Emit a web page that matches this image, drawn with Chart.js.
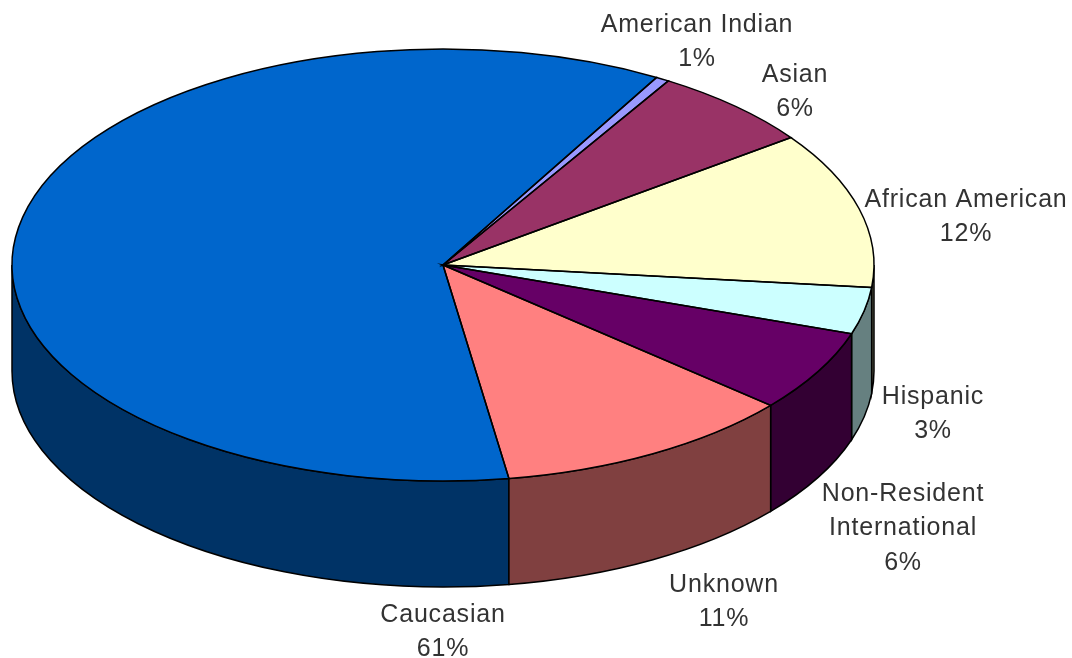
<!DOCTYPE html>
<html>
<head>
<meta charset="utf-8">
<style>
html, body { margin: 0; padding: 0; background: #fff; }
canvas { display: block; }
</style>
<script src="https://cdn.jsdelivr.net/npm/chart.js@4/dist/chart.umd.min.js"></script>
</head>
<body>
<canvas id="pie" width="1072" height="658"></canvas>
<script>
const categories = ['Caucasian', 'American Indian', 'Asian', 'African American', 'Hispanic', 'Non-Resident International', 'Unknown'];
const values = [60.7, 0.5, 6.2, 11.7, 3.5, 6.1, 11.3];
const percentLabels = ['61%', '1%', '6%', '12%', '3%', '6%', '11%'];
const labelLines = [['Caucasian'], ['American Indian'], ['Asian'], ['African American'], ['Hispanic'], ['Non-Resident', 'International'], ['Unknown']];
const topColors = ['#0066cc', '#9999ff', '#993366', '#ffffcc', '#ccffff', '#660066', '#ff8080'];
const sideColors = ['#003366', '#4d4d80', '#4d1a33', '#808066', '#668080', '#330033', '#804040'];

// how the flat pie is laid over on the page
const centre = { x: 443, y: 265 };
const radiusX = 431;
const radiusY = 216;
const depth = 106;
const firstAngle = 171.2;
const labelSpots = [[443, 615], [697, 25], [795, 75], [966, 200], [933, 397], [903, 494], [724, 585]];

function norm(a) {
  const t = 2 * Math.PI;
  return ((a % t) + t) % t;
}

const tilted = {
  id: 'tilted',
  beforeDatasetsDraw(chart) {
    const { ctx } = chart;
    const arcs = chart.getDatasetMeta(0).data;
    const flat = arcs[0];
    // side wall first, only the front half of the rim shows
    ctx.save();
    ctx.strokeStyle = '#000';
    ctx.lineWidth = 1.5;
    arcs.forEach((arc, i) => {
      const a0 = norm(arc.startAngle);
      const a1 = a0 + (arc.endAngle - arc.startAngle);
      [[a0, a1], [a0 - 2 * Math.PI, a1 - 2 * Math.PI]].forEach(([s, e]) => {
        const from = Math.max(s, 0);
        const to = Math.min(e, Math.PI);
        if (to <= from) return;
        ctx.beginPath();
        ctx.ellipse(centre.x, centre.y, radiusX, radiusY, 0, from, to);
        ctx.ellipse(centre.x, centre.y + depth, radiusX, radiusY, 0, to, from, true);
        ctx.closePath();
        ctx.fillStyle = sideColors[i];
        ctx.fill();
        ctx.stroke();
      });
    });
    ctx.restore();
    // the library draws the slices through this squash
    ctx.save();
    ctx.translate(centre.x, centre.y);
    ctx.scale(radiusX / flat.outerRadius, radiusY / flat.outerRadius);
    ctx.translate(-flat.x, -flat.y);
  },
  afterDatasetsDraw(chart) {
    const { ctx } = chart;
    ctx.restore();
    const arcs = chart.getDatasetMeta(0).data;
    ctx.save();
    ctx.strokeStyle = '#000';
    ctx.lineWidth = 1.5;
    arcs.forEach(arc => {
      ctx.beginPath();
      ctx.moveTo(centre.x, centre.y);
      ctx.ellipse(centre.x, centre.y, radiusX, radiusY, 0, arc.startAngle, arc.endAngle);
      ctx.closePath();
      ctx.stroke();
    });
    ctx.fillStyle = '#333';
    ctx.font = '25px "Liberation Sans"';
    ctx.letterSpacing = '0.8px';
    ctx.textAlign = 'center';
    ctx.textBaseline = 'middle';
    const lineGap = 34.5;
    labelLines.forEach((lines, i) => {
      const [x, y] = labelSpots[i];
      [...lines, percentLabels[i]].forEach((t, k) => ctx.fillText(t, x, y + k * lineGap));
    });
    ctx.restore();
  }
};

new Chart(document.getElementById('pie'), {
  type: 'pie',
  data: {
    labels: categories,
    datasets: [{ data: values, backgroundColor: topColors, borderWidth: 0, clip: false }]
  },
  options: {
    responsive: false,
    animation: false,
    rotation: firstAngle,
    plugins: { legend: { display: false }, tooltip: { enabled: false } }
  },
  plugins: [tilted]
});
</script>
</body>
</html>
